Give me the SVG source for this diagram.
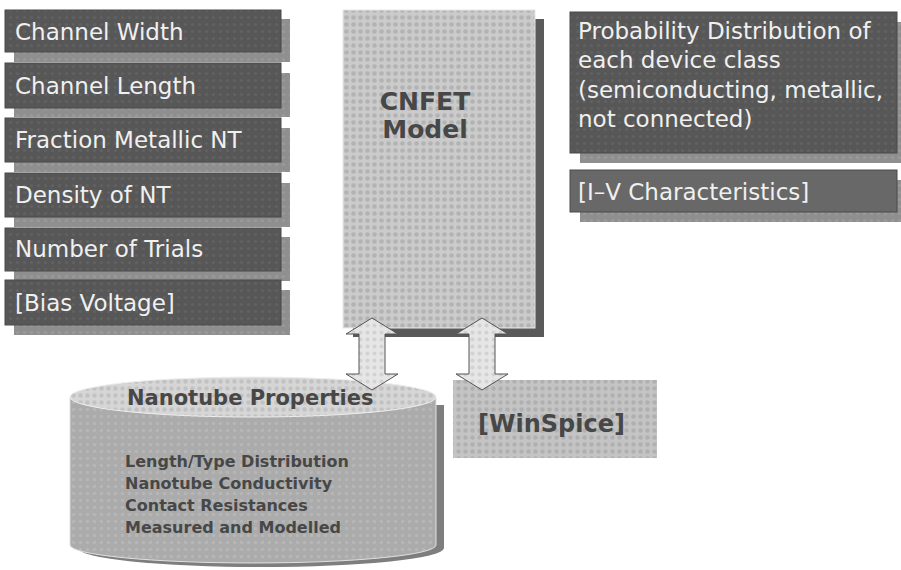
<svg xmlns="http://www.w3.org/2000/svg" width="901" height="570" viewBox="0 0 901 570">
<defs>
<pattern id="pDark" width="7" height="7" patternUnits="userSpaceOnUse">
<rect width="7" height="7" fill="#575757"/>
<circle cx="3.5" cy="3.5" r="1.6" fill="#616161"/>
</pattern>
<pattern id="pShadow" width="7" height="7" patternUnits="userSpaceOnUse">
<rect width="7" height="7" fill="#8f8f8f"/>
<circle cx="3.5" cy="3.5" r="1.6" fill="#9a9a9a"/>
</pattern>
<pattern id="pLight" width="7" height="7" patternUnits="userSpaceOnUse">
<rect width="7" height="7" fill="#cbcbcb"/>
<circle cx="3.5" cy="3.5" r="2.3" fill="#b3b3b3"/>
</pattern>
<pattern id="pArrow" width="7" height="7" patternUnits="userSpaceOnUse">
<rect width="7" height="7" fill="#e6e6e6"/>
<circle cx="3.5" cy="3.5" r="2" fill="#d2d2d2"/>
</pattern>
<pattern id="pTop" width="7" height="7" patternUnits="userSpaceOnUse">
<rect width="7" height="7" fill="#d6d6d6"/>
<circle cx="3.5" cy="3.5" r="2.2" fill="#c2c2c2"/>
</pattern>
<pattern id="pBody" width="7" height="7" patternUnits="userSpaceOnUse">
<rect width="7" height="7" fill="#ababab"/>
<circle cx="3.5" cy="3.5" r="1.8" fill="#b6b6b6"/>
</pattern>
<pattern id="pWin" width="7" height="7" patternUnits="userSpaceOnUse">
<rect width="7" height="7" fill="#c4c4c4"/>
<circle cx="3.5" cy="3.5" r="2.2" fill="#b0b0b0"/>
</pattern>
</defs>
<style>
.dark{fill:url(#pDark);stroke:#4a4a4a;stroke-width:1}
.sh{fill:url(#pShadow)}
.lt{font-family:"DejaVu Sans",Verdana,sans-serif;font-size:23px;fill:#f0f0f0}
.bd{font-family:"DejaVu Sans",Verdana,sans-serif;font-weight:bold;fill:#474747}
.arrow{fill:url(#pArrow);stroke:#555;stroke-width:1}
</style>
<rect width="901" height="570" fill="#ffffff"/>

<g id="channel-width">
<rect class="sh" x="14" y="19" width="276" height="43"/>
<rect class="dark" x="5" y="10" width="276" height="42"/>
<text class="lt" x="15" y="40">Channel Width</text>
</g>
<g id="channel-length">
<rect class="sh" x="14" y="73" width="276" height="44"/>
<rect class="dark" x="5" y="63" width="276" height="45"/>
<text class="lt" x="15" y="94">Channel Length</text>
</g>
<g id="fraction-metallic">
<rect class="sh" x="14" y="128" width="276" height="44"/>
<rect class="dark" x="5" y="118" width="276" height="44"/>
<text class="lt" x="15" y="148">Fraction Metallic NT</text>
</g>
<g id="density">
<rect class="sh" x="14" y="183" width="276" height="44"/>
<rect class="dark" x="5" y="173" width="276" height="44"/>
<text class="lt" x="15" y="203">Density of NT</text>
</g>
<g id="trials">
<rect class="sh" x="14" y="237" width="276" height="44"/>
<rect class="dark" x="5" y="228" width="276" height="43"/>
<text class="lt" x="15" y="257">Number of Trials</text>
</g>
<g id="bias">
<rect class="sh" x="14" y="290" width="276" height="45"/>
<rect class="dark" x="5" y="280" width="276" height="45"/>
<text class="lt" x="15" y="311">[Bias Voltage]</text>
</g>

<g id="cnfet">
<rect x="353" y="19" width="191" height="318" fill="#5a5a5a"/>
<rect x="343" y="10" width="192" height="318" fill="url(#pLight)" stroke="#e8e8e8" stroke-width="1"/>
<text class="bd" x="425" y="110" font-size="25" text-anchor="middle">CNFET</text>
<text class="bd" x="425" y="138" font-size="25" text-anchor="middle">Model</text>
</g>

<g id="probability">
<rect class="sh" x="580" y="22" width="321" height="141"/>
<rect class="dark" x="570" y="12" width="327" height="141"/>
<text class="lt" x="578" y="39">Probability Distribution of</text>
<text class="lt" x="578" y="68">each device class</text>
<text class="lt" x="578" y="98">(semiconducting, metallic,</text>
<text class="lt" x="578" y="127">not connected)</text>
</g>
<g id="iv">
<rect class="sh" x="580" y="180" width="321" height="42"/>
<rect class="dark" x="570" y="170" width="327" height="42" style="fill:#686868"/>
<text class="lt" x="578" y="200">[I–V Characteristics]</text>
</g>

<g id="nanotube">
<path d="M78,405 V548 A183,19 0 0 0 444,548 V405 Z" fill="#7e7e7e"/>
<path d="M70,397 V545 A183,18 0 0 0 436,545 V397 Z" fill="url(#pBody)" stroke="#e0e0e0" stroke-width="1"/>
<ellipse cx="253" cy="397" rx="183" ry="20" fill="url(#pTop)" stroke="#eeeeee" stroke-width="1"/>
<text class="bd" x="127" y="405" font-size="21">Nanotube Properties</text>
<text class="bd" x="125" y="467" font-size="16">Length/Type Distribution</text>
<text class="bd" x="125" y="489" font-size="16">Nanotube Conductivity</text>
<text class="bd" x="125" y="511" font-size="16">Contact Resistances</text>
<text class="bd" x="125" y="533" font-size="16">Measured and Modelled</text>
</g>

<g id="winspice">
<rect x="453" y="380" width="204" height="78" fill="url(#pWin)"/>
<text class="bd" x="478" y="432" font-size="24">[WinSpice]</text>
</g>

<g id="connectors">
<path class="arrow" d="M372,318 L398,334 L385,334 L385,374 L398,374 L372,390 L346,374 L359,374 L359,334 L346,334 Z"/>
<path class="arrow" d="M482,318 L508,334 L495,334 L495,374 L508,374 L482,390 L456,374 L469,374 L469,334 L456,334 Z"/>
</g>
</svg>
